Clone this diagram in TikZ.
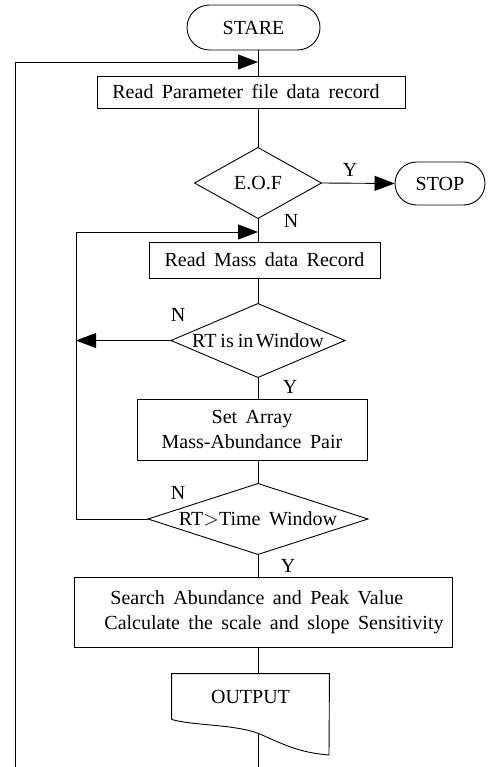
\documentclass[tikz,border=0pt]{standalone}
\usepackage{fontspec}
\setmainfont{Liberation Serif}[WordSpace=1.7]
\usetikzlibrary{arrows.meta,shapes.misc,calc}

\begin{document}
\begin{tikzpicture}[x=1pt,y=-1pt,line width=0.9pt,
  every node/.style={font=\fontsize{20}{25}\selectfont},
  box/.style={draw, rectangle, inner sep=0pt, align=center},
  term/.style={draw, rounded rectangle, inner sep=0pt},
  decide/.style={rectangle, inner sep=0pt},
  lbl/.style={inner sep=0pt},
  arr/.style={-{Triangle[length=20pt,width=15pt]}}]

\useasboundingbox (0,0) rectangle (487,767);
\coordinate (axis) at (258,0);

% process steps
\node[term, minimum width=133pt, minimum height=45pt] (stare) at (253.5,27.5) {STARE};
\node[box, minimum width=308pt, minimum height=32pt] (rect1) at (251,92) {Read Parameter file data record\hspace*{10pt}};
\node[decide, minimum width=126pt, minimum height=70pt] (eof) at (258,183) {E.O.F};
\node[term, minimum width=90pt, minimum height=43pt] (stop) at (440,183.5) {STOP};
\node[box, minimum width=231pt, minimum height=36pt] (rect2) at (264.5,260) {Read Mass data Record};
\node[decide, minimum width=173pt, minimum height=73pt] (win) at (258,340.5)
  {RT\hspace{0.2em}is\hspace{0.2em}in\hspace{0.12em}Window};
\node[box, minimum width=230pt, minimum height=61pt] (rect3) at (252,429.5) {Set Array\\Mass-Abundance Pair};
\node[decide, minimum width=219pt, minimum height=70pt] (tw) at (258,519) {RT$>$Time Window};
\node[box, minimum width=378pt, minimum height=70pt, align=left] (rect4) at (263,612)
  {\hspace*{28pt}Search Abundance and Peak Value\\\hspace*{22pt}Calculate the scale and slope Sensitivity};
\node[minimum width=157pt, minimum height=45pt, inner sep=0pt] (out) at (250.5,696.5) {OUTPUT};

% decision outlines
\foreach \d in {eof,win,tw}
  \draw (\d.north) -- (\d.east) -- (\d.south) -- (\d.west) -- cycle;

% document symbol outline
\draw (out.south west) -- (out.north west) -- (out.north east) -- (329,755)
  .. controls (305,753) and (290,748) .. (260,734)
  .. controls (235,724) and (195,726) .. (out.south west);

% branch labels
\node[lbl] (yeof) at (350,170) {Y};
\node[lbl] (neof) at (291,221) {N};
\node[lbl] (nwin) at (178,315) {N};
\node[lbl] (ywin) at (290,387) {Y};
\node[lbl] (ntw) at (178,493) {N};
\node[lbl] (ytw) at (288,566) {Y};

% junction points of the loops
\coordinate (topjoin) at (258,62);
\coordinate (outerfoot) at (15,767);
\coordinate (innerjoin) at (258,232);
\coordinate (inneredge) at (76,232);
\coordinate (wavemid) at (258,733);
\coordinate (outfoot) at (258,767);

% connectors
\draw (stare.south -| axis) -- (rect1.north -| axis);
\draw[arr] (outerfoot) |- (topjoin);
\draw (rect1.south -| axis) -- (eof.north);
\draw[arr] (eof.east) -- (stop.west);
\draw (eof.south) -- (rect2.north -| axis);
\draw (rect2.south -| axis) -- (win.north);
\draw[arr] (win.west) -- (win.west -| inneredge);
\draw (win.south) -- (rect3.north -| axis);
\draw (rect3.south -| axis) -- (tw.north);
\draw[arr] (tw.west) -| (inneredge) -- (innerjoin);
\draw (tw.south) -- (rect4.north -| axis);
\draw (rect4.south -| axis) -- (out.north -| axis);
\draw (wavemid) -- (outfoot);
\end{tikzpicture}
\end{document}
